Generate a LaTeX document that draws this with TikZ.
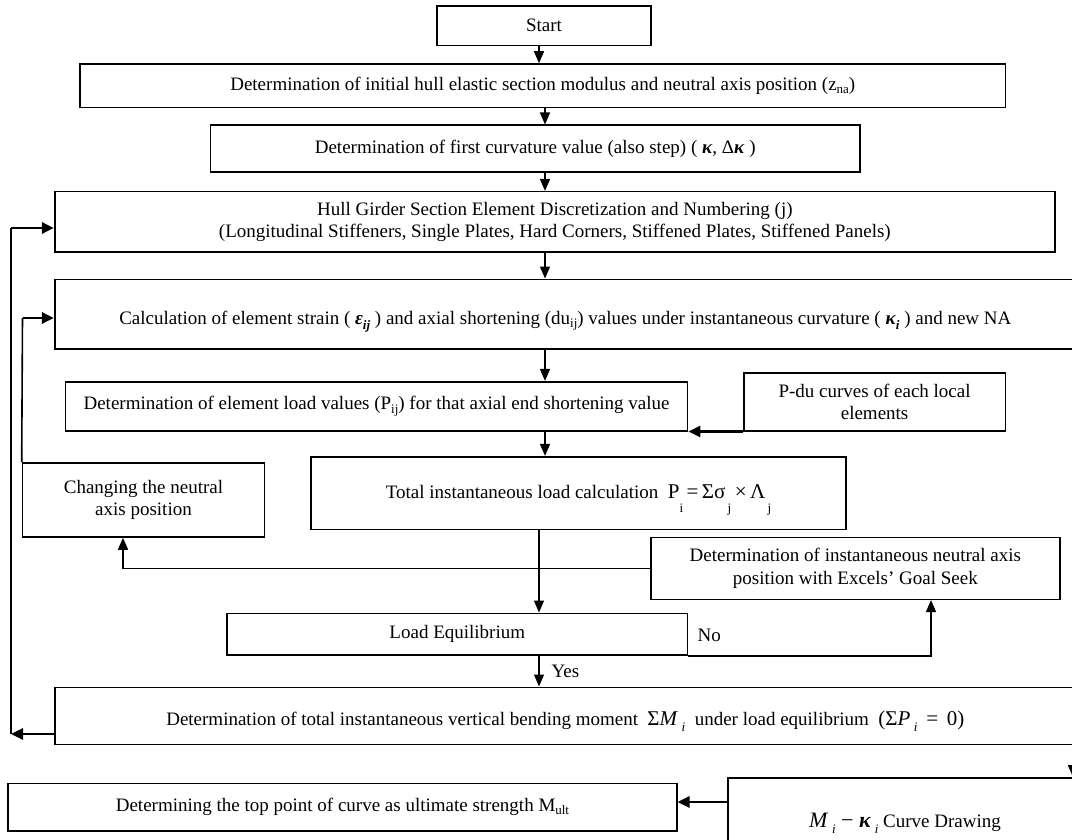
\documentclass[tikz,border=0pt]{standalone}
\usepackage{fontspec}
\setmainfont{Liberation Serif}
\usetikzlibrary{arrows.meta}
\newcommand\lo[2][-0.35ex]{\raisebox{#1}{\fontsize{13}{13}\selectfont #2}}
\begin{document}
\begin{tikzpicture}[x=1pt,y=-1pt, font=\fontsize{19}{22.5}\selectfont,
  bx/.style={draw, line width=1.6pt, inner sep=0pt, align=center},
  conn/.style={line width=1.6pt, -{Triangle[length=12pt,width=10pt]}},
  thk/.style={line width=2.8pt, -{Triangle[length=12pt,width=11pt]}},
  plain/.style={line width=1.6pt}]
\useasboundingbox (0,0) rectangle (1072,840);
\clip (0,0) rectangle (1072,840);
\fill[white] (0,0) rectangle (1072,840);
% boxes
\node[bx, minimum width=214pt, minimum height=39.5pt] (start) at (544,25.75) {Start};
\node[bx, minimum width=925.5pt, minimum height=43.7pt] (b2) at (542.75,85.85)
  {Determination of initial hull elastic section modulus and neutral axis position (z\lo{na})};
\node[bx, minimum width=649.5pt, minimum height=46.7pt] (b3) at (535.25,148.65)
  {Determination of first curvature value (also step) ( \textbf{\textit{κ}}, Δ\textbf{\textit{κ}} )};
\node[bx, minimum width=1000.3pt, minimum height=60.3pt] (b4) at (554.85,221.85)
  {Hull Girder Section Element Discretization and Numbering (j)\\(Longitudinal Stiffeners, Single Plates, Hard Corners, Stiffened Plates, Stiffened Panels)};
\node[bx, minimum width=1021.3pt, minimum height=69.4pt, text height=24pt, text depth=3pt] (b5) at (565.35,314)
  {Calculation of element strain ( \textbf{\textit{ε}}\lo[-0.6ex]{\textbf{\textit{ij}}} ) and axial shortening (du\lo{ij}) values under instantaneous curvature ( \textbf{\textit{κ}}\lo[-0.6ex]{\textbf{\textit{i}}} ) and new NA};
\node[bx, minimum width=622pt, minimum height=49pt] (b6) at (376.6,406.2)
  {Determination of element load values (P\lo{ij}) for that axial end shortening value};
\node[bx, minimum width=261.8pt, minimum height=58pt] (b7) at (874.6,401.7)
  {P-du curves of each local\\elements};
\node[bx, minimum width=535pt, minimum height=72.6pt, text height=14pt, text depth=4pt] (b8) at (578.5,493)
  {Total instantaneous load calculation\ \ {\fontsize{21}{22}\selectfont P\lo[-1.5ex]{i}\,=\,Σσ\lo[-1.5ex]{\,j}\,×\,Λ\lo[-1.5ex]{\,j}}};
\node[bx, minimum width=242pt, minimum height=74pt] (b9) at (143.5,500)
  {Changing the neutral\\axis position};
\node[bx, minimum width=460.6pt, minimum height=41.7pt] (b10) at (457.3,634.15)
  {Load Equilibrium};
\node[bx, minimum width=409.3pt, minimum height=62pt] (b11) at (855.35,568.3)
  {Determination of instantaneous neutral axis\\position with Excels’ Goal Seek};
\node[bx, minimum width=1021.3pt, minimum height=57.2pt, text height=22pt, text depth=2pt] (b12) at (565.35,715.9)
  {Determination of total instantaneous vertical bending moment \ {\fontsize{21}{22}\selectfont Σ\textit{M}\,\lo[-0.6ex]{\textit{i}}} \ under load equilibrium \ {\fontsize{21}{22}\selectfont (Σ\textit{P}\,\lo[-0.6ex]{\textit{i}} \,=\, 0)}};
\node[bx, minimum width=668.5pt, minimum height=47.4pt] (b13) at (342.45,807)
  {Determining the top point of curve as ultimate strength M\lo{ult}};
\node[bx, minimum width=373.4pt, minimum height=90pt] (b14) at (914.4,823) {};
\node (b14t) at (905,823) {{\fontsize{22}{22}\selectfont\textit{M}\,\lo[-0.6ex]{\textit{i}} − \textbf{\textit{κ}}\,\lo[-0.6ex]{\textit{i}}} Curve Drawing};
% helper coordinates
\coordinate (ax1) at (539,0);
\coordinate (ax2) at (545,0);
\coordinate (xo) at (11,0);
\coordinate (xi) at (22.5,0);
\coordinate (xc) at (123,0);
\coordinate (xn) at (931,0);
\coordinate (xr) at (1073,0);
\coordinate (yo) at (0,228);
\coordinate (yi) at (0,318);
\coordinate (yb) at (0,734);
\coordinate (yd) at (0,802);
% connectors
\draw[conn] (start.south -| ax1) -- (b2.north -| ax1);
\draw[conn] (b2.south -| ax2) -- (b3.north -| ax2);
\draw[conn] (b3.south -| ax2) -- (b4.north -| ax2);
\draw[conn] (b4.south -| ax2) -- (b5.north -| ax2);
\draw[conn] (b5.south -| ax2) -- (b6.north -| ax2);
\draw[conn] (b6.south -| ax2) -- (b8.north -| ax2);
\draw[thk] (b7.south west) -- (b6.south east);
\draw[conn] (b8.south -| ax1) -- (b10.north -| ax1);
\draw[conn] (b11.west) -- (b11.west -| xc) -- (b9.south -| xc);
\draw[conn] (b10.south east) -- (b10.south east -| xn) -- (b11.south -| xn);
\node[anchor=west] (no) at (694,635) {No};
\draw[conn] (b10.south -| ax1) -- (b12.north -| ax1);
\node[anchor=west] (yes) at (548,671) {Yes};
\draw[thk] (b12.west |- yb) -- (xo |- yb);
\draw[plain] (xo |- yb) -- (xo |- yo);
\draw[thk] (xo |- yo) -- (b4.west |- yo);
\draw[plain] (b9.north west) -- (xi |- yi);
\draw[thk] (xi |- yi) -- (b5.west |- yi);
\draw[thk] (b14.west |- yd) -- (b13.east |- yd);
\draw[conn] (b12.south -| xr) -- (b14.north -| xr);
\end{tikzpicture}
\end{document}
